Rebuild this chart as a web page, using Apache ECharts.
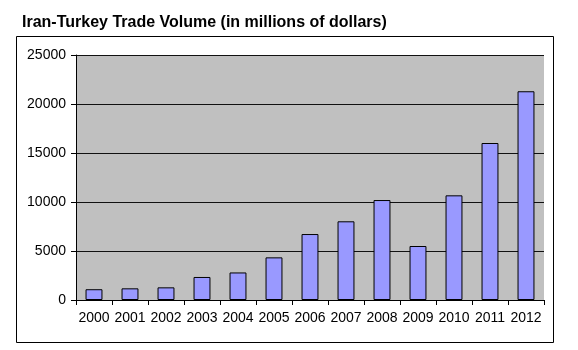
<!DOCTYPE html>
<html>
<head>
<meta charset="utf-8">
<script src="https://cdn.jsdelivr.net/npm/echarts@6/dist/echarts.min.js"></script>
<style>
html,body{margin:0;padding:0;background:#fff;}
#c{width:578px;height:350px;}
</style>
</head>
<body>
<div id="c"></div>
<script>
var titleText = 'Iran-Turkey Trade Volume (in millions of dollars)';
var years = ['2000','2001','2002','2003','2004','2005','2006','2007','2008','2009','2010','2011','2012'];
var tradeVolume = [1100, 1190, 1290, 2350, 2810, 4350, 6730, 8030, 10200, 5510, 10680, 16020, 21300];
var yTicks = [0, 5000, 10000, 15000, 20000, 25000];

var chart = echarts.init(document.getElementById('c'), null, {renderer: 'canvas'});
chart.setOption({
  animation: false,
  backgroundColor: '#ffffff',
  title: {
    text: titleText,
    left: 17, top: 10,
    textStyle: {fontFamily: 'Liberation Sans, Arial, sans-serif', fontSize: 16, fontWeight: 'bold', color: '#000'}
  },
  graphic: [{
    type: 'rect', silent: true, z: -10,
    shape: {x: 16.5, y: 36.5, width: 537, height: 306},
    style: {fill: '#ffffff', stroke: '#000', lineWidth: 1}
  }],
  grid: {left: 76, right: 34, top: 55, bottom: 50, show: true, backgroundColor: '#c0c0c0', borderWidth: 0},
  xAxis: {
    type: 'category',
    data: years,
    boundaryGap: true,
    axisLine: {lineStyle: {color: '#000', width: 1}},
    axisTick: {show: true, length: 5, alignWithLabel: false, lineStyle: {color: '#000'}},
    axisLabel: {margin: 11, fontFamily: 'Liberation Sans, Arial, sans-serif', fontSize: 14, color: '#000', interval: 0}
  },
  yAxis: {
    type: 'value',
    min: yTicks[0], max: yTicks[yTicks.length - 1], interval: yTicks[1] - yTicks[0],
    axisLine: {show: true, lineStyle: {color: '#000', width: 1}},
    axisTick: {show: true, length: 5, lineStyle: {color: '#000'}},
    axisLabel: {margin: 10, fontFamily: 'Liberation Sans, Arial, sans-serif', fontSize: 14, color: '#000',
      formatter: function (v) { return String(v); }},
    splitLine: {show: true, lineStyle: {color: '#111', width: 1}}
  },
  series: [{
    type: 'bar',
    data: tradeVolume,
    barWidth: '47%',
    itemStyle: {color: '#9999ff', borderColor: '#000', borderWidth: 1}
  }]
});
</script>
</body>
</html>
